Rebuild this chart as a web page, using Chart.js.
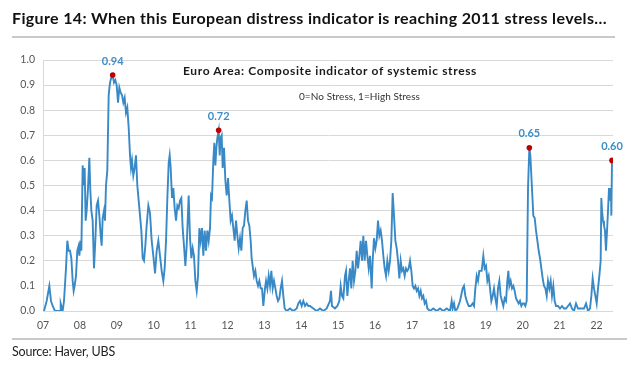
<!DOCTYPE html>
<html>
<head>
<meta charset="utf-8">
<script src="https://cdn.jsdelivr.net/npm/chart.js@4.4.0/dist/chart.umd.min.js"></script>
<style>
  html, body { margin: 0; padding: 0; background: #fff; }
  #wrap { position: relative; width: 640px; height: 371px; overflow: hidden; background: #fff; }
  #c { position: absolute; left: 0; top: 0; }
  .t { position: absolute; white-space: nowrap; display: inline-block; font-family: Lato, "Open Sans", sans-serif; }
  #title { left: 12px; top: 9.5px; font-size: 16px; line-height: 16px; font-weight: 700; color: #111; }
  #rule1 { position: absolute; left: 12px; top: 36px; width: 603px; height: 2px; background: #c9c9c9; }
  #inner { left: 183px; top: 65.2px; font-size: 12px; line-height: 12px; font-weight: 700; color: #1a1a1a; }
  #sub { left: 299px; top: 90.5px; font-size: 10px; line-height: 10px; color: #333; }
  #rule2 { position: absolute; left: 12px; top: 338px; width: 615px; height: 2px; background: #c9c9c9; }
  #source { left: 12px; top: 346.2px; font-size: 12.5px; line-height: 12.5px; color: #222; }
</style>
</head>
<body>
<div id="wrap">
  <canvas id="c" width="640" height="371"></canvas>
  <div class="t" id="title">Figure 14: When this European distress indicator is reaching 2011 stress levels…</div>
  <div id="rule1"></div>
  <div class="t" id="inner">Euro Area: Composite indicator of systemic stress</div>
  <div class="t" id="sub">0=No Stress, 1=High Stress</div>
  <div id="rule2"></div>
  <div class="t" id="source">Source: Haver, UBS</div>
</div>
<script>
// ---- DATA ----
const dates = [
  2007.027,2007.099,2007.172,2007.217,2007.262,2007.325,2007.461,2007.479,2007.533,2007.569,2007.623,2007.659,2007.696,2007.732,2007.768,2007.804,2007.831,2007.858,2007.894,2007.930,2007.967,2007.985,
  2008.021,2008.039,2008.075,2008.102,2008.129,2008.156,2008.183,2008.220,2008.256,2008.283,2008.310,2008.346,2008.382,2008.418,2008.454,2008.491,2008.527,2008.563,2008.590,2008.617,2008.653,2008.680,2008.707,2008.743,2008.780,2008.816,2008.852,2008.888,2008.924,2008.960,2008.996,
  2009.033,2009.069,2009.105,2009.141,2009.177,2009.213,2009.249,2009.285,2009.322,2009.358,2009.385,2009.412,2009.448,2009.484,2009.520,2009.556,2009.593,2009.629,2009.665,2009.701,2009.737,2009.773,2009.809,2009.855,2009.900,2009.945,2009.990,
  2010.036,2010.081,2010.126,2010.171,2010.216,2010.261,2010.297,2010.334,2010.370,2010.406,2010.433,2010.460,2010.496,2010.532,2010.568,2010.605,2010.641,2010.677,2010.713,2010.749,2010.785,2010.821,2010.858,2010.894,2010.921,2010.948,2010.984,
  2011.020,2011.056,2011.092,2011.129,2011.165,2011.201,2011.237,2011.273,2011.309,2011.345,2011.381,2011.418,2011.454,2011.490,2011.526,2011.553,2011.580,2011.616,2011.643,2011.671,2011.698,2011.725,2011.761,2011.788,2011.815,2011.842,2011.869,2011.905,2011.942,2011.978,
  2012.014,2012.050,2012.086,2012.122,2012.158,2012.194,2012.231,2012.267,2012.303,2012.339,2012.375,2012.411,2012.447,2012.484,2012.520,2012.556,2012.592,2012.628,2012.655,2012.682,2012.718,2012.755,2012.791,2012.827,2012.863,2012.899,2012.935,2012.971,
  2013.016,2013.044,2013.080,2013.116,2013.152,2013.188,2013.224,2013.260,2013.297,2013.333,2013.369,2013.405,2013.441,2013.477,2013.513,2013.549,2013.604,2013.694,2013.784,2013.875,2013.920,2013.965,
  2014.010,2014.055,2014.101,2014.146,2014.191,2014.236,2014.326,2014.417,2014.507,2014.597,2014.688,2014.778,2014.805,2014.832,2014.913,2014.977,
  2015.031,2015.067,2015.103,2015.139,2015.184,2015.212,2015.248,2015.284,2015.320,2015.356,2015.392,2015.428,2015.465,2015.501,2015.537,2015.573,2015.609,2015.645,2015.681,2015.717,2015.754,2015.790,2015.826,2015.862,2015.907,2015.934,2015.970,
  2016.007,2016.043,2016.079,2016.115,2016.151,2016.187,2016.223,2016.259,2016.296,2016.332,2016.368,2016.404,2016.440,2016.476,2016.512,2016.549,2016.585,2016.621,2016.657,2016.693,2016.729,2016.765,2016.801,2016.838,2016.874,2016.910,2016.946,2016.982,
  2017.018,2017.054,2017.091,2017.127,2017.163,2017.199,2017.235,2017.271,2017.307,2017.343,2017.380,2017.416,2017.488,2017.578,2017.669,2017.759,2017.849,2017.940,
  2018.030,2018.075,2018.102,2018.138,2018.175,2018.229,2018.301,2018.373,2018.409,2018.446,2018.482,2018.536,2018.590,2018.644,2018.680,2018.717,2018.753,2018.789,2018.825,2018.888,2018.933,2018.969,
  2019.006,2019.042,2019.078,2019.114,2019.150,2019.186,2019.222,2019.258,2019.295,2019.331,2019.367,2019.403,2019.439,2019.475,2019.511,2019.548,2019.584,2019.611,2019.638,2019.674,2019.710,2019.746,2019.782,2019.819,2019.855,2019.891,2019.927,2019.963,2019.999,
  2020.035,2020.072,2020.108,2020.144,2020.180,2020.207,2020.234,2020.261,2020.288,2020.325,2020.361,2020.397,2020.433,2020.469,2020.505,2020.541,2020.577,2020.614,2020.650,2020.686,2020.722,2020.758,2020.794,2020.830,2020.866,2020.903,2020.957,
  2021.011,2021.065,2021.119,2021.174,2021.228,2021.282,2021.336,2021.390,2021.445,2021.499,2021.553,2021.607,2021.661,2021.716,2021.770,2021.824,2021.860,2021.896,2021.932,2021.969,
  2022.005,2022.041,2022.077,2022.113,2022.131,2022.149,2022.176,2022.203,2022.230,2022.257,2022.285,2022.312,2022.339,2022.366,2022.393,2022.402,2022.420
];
const stress = [
  0.00,0.04,0.10,0.04,0.02,0.00,0.00,0.03,0.00,0.04,0.17,0.28,0.24,0.24,0.21,0.12,0.08,0.10,0.14,0.24,0.26,0.22,
  0.28,0.24,0.58,0.50,0.57,0.36,0.40,0.49,0.61,0.48,0.40,0.36,0.17,0.28,0.42,0.44,0.38,0.30,0.26,0.37,0.40,0.36,0.50,0.56,0.86,0.91,0.93,0.94,0.91,0.92,0.90,
  0.83,0.89,0.87,0.86,0.83,0.85,0.79,0.81,0.73,0.62,0.57,0.60,0.54,0.57,0.62,0.50,0.44,0.38,0.32,0.21,0.20,0.26,0.34,0.42,0.39,0.28,0.22,
  0.15,0.24,0.28,0.22,0.16,0.12,0.17,0.28,0.45,0.59,0.62,0.57,0.45,0.49,0.41,0.36,0.42,0.41,0.44,0.45,0.33,0.26,0.18,0.26,0.36,0.46,0.29,
  0.21,0.25,0.22,0.12,0.08,0.14,0.33,0.28,0.33,0.22,0.32,0.24,0.32,0.28,0.33,0.46,0.45,0.60,0.67,0.58,0.65,0.69,0.72,0.62,0.69,0.70,0.57,0.65,0.52,0.46,
  0.53,0.44,0.36,0.38,0.33,0.28,0.36,0.30,0.25,0.29,0.24,0.33,0.34,0.40,0.44,0.36,0.34,0.28,0.21,0.18,0.14,0.16,0.12,0.10,0.12,0.09,0.09,0.02,
  0.09,0.12,0.09,0.14,0.10,0.16,0.09,0.12,0.09,0.06,0.04,0.05,0.09,0.12,0.06,0.01,0.00,0.01,0.00,0.01,0.03,0.04,
  0.02,0.04,0.02,0.03,0.02,0.02,0.01,0.00,0.01,0.00,0.01,0.04,0.08,0.02,0.01,0.02,
  0.04,0.10,0.06,0.05,0.14,0.16,0.06,0.12,0.17,0.09,0.20,0.12,0.16,0.24,0.17,0.22,0.28,0.20,0.30,0.20,0.28,0.22,0.17,0.22,0.09,0.20,0.29,
  0.25,0.28,0.36,0.30,0.32,0.28,0.22,0.17,0.14,0.20,0.16,0.20,0.28,0.47,0.38,0.28,0.25,0.20,0.13,0.20,0.16,0.17,0.14,0.17,0.16,0.17,0.20,0.16,
  0.10,0.09,0.10,0.08,0.09,0.06,0.08,0.05,0.06,0.03,0.04,0.01,0.00,0.01,0.00,0.01,0.00,0.01,
  0.00,0.04,0.01,0.03,0.00,0.01,0.04,0.09,0.10,0.06,0.04,0.02,0.02,0.03,0.02,0.09,0.14,0.12,0.16,0.16,0.22,0.17,
  0.18,0.12,0.14,0.09,0.04,0.06,0.09,0.05,0.02,0.09,0.12,0.06,0.04,0.02,0.05,0.04,0.12,0.16,0.10,0.12,0.09,0.10,0.08,0.05,0.04,0.03,0.04,0.02,0.03,
  0.03,0.02,0.04,0.49,0.65,0.62,0.54,0.46,0.38,0.37,0.32,0.28,0.24,0.21,0.17,0.13,0.10,0.09,0.06,0.12,0.09,0.12,0.06,0.10,0.04,0.02,0.02,
  0.01,0.02,0.01,0.01,0.02,0.03,0.01,0.00,0.03,0.01,0.01,0.01,0.01,0.03,0.00,0.01,0.06,0.13,0.09,0.06,
  0.03,0.09,0.14,0.20,0.45,0.40,0.36,0.34,0.32,0.24,0.32,0.40,0.49,0.44,0.49,0.38,0.60
];
const peakDates  = [2008.888, 2011.761, 2020.180, 2022.420];
const peakValues = [0.94, 0.72, 0.65, 0.60];
const yearTicks  = [2007,2008,2009,2010,2011,2012,2013,2014,2015,2016,2017,2018,2019,2020,2021,2022];
const tickLabels = ['07','08','09','10','11','12','13','14','15','16','17','18','19','20','21','22'];
const xMin = 2007.0, xMax = 2022.447;

// ---- text fitting (letter-spacing) ----
function fit(id, target) {
  const el = document.getElementById(id);
  el.style.letterSpacing = '0px';
  const w = el.getBoundingClientRect().width;
  const n = el.textContent.length;
  el.style.letterSpacing = ((target - w) / n).toFixed(3) + 'px';
}
fit('title', 595);
fit('inner', 294);
fit('sub', 121);
fit('source', 103);

const FONT = 'Lato, "Open Sans", sans-serif';
const lineColor = '#3889c6';
const gridColor = '#d8d8d8';

const peakLabels = {
  id: 'peakLabels',
  afterDatasetsDraw(chart) {
    const {ctx, scales} = chart;
    ctx.save();
    ctx.font = 'bold 11px ' + FONT;
    ctx.fillStyle = '#3d8ec9';
    ctx.textAlign = 'center';
    ctx.textBaseline = 'middle';
    peakDates.forEach((d, i) => {
      const x = scales.x.getPixelForValue(d);
      const y = scales.y.getPixelForValue(peakValues[i]);
      ctx.fillText(peakValues[i].toFixed(2), x, y - 14);
    });
    ctx.restore();
  }
};

new Chart(document.getElementById('c'), {
  type: 'scatter',
  data: {
    datasets: [
      {
        data: peakDates.map((d, i) => ({x: d, y: peakValues[i]})),
        pointRadius: 2.8,
        pointBackgroundColor: '#c00000',
        pointBorderWidth: 0,
        showLine: false,
        order: 0
      },
      {
        data: dates.map((d, i) => ({x: d, y: stress[i]})),
        showLine: true,
        borderColor: lineColor,
        borderWidth: 1.9,
        pointRadius: 0,
        tension: 0,
        order: 1
      }
    ]
  },
  options: {
    responsive: false,
    animation: false,
    devicePixelRatio: 1,
    layout: { padding: { left: 0, right: 27, top: 60, bottom: 35 } },
    plugins: { legend: { display: false }, tooltip: { enabled: false } },
    scales: {
      x: {
        type: 'linear',
        min: xMin,
        max: xMax,
        afterBuildTicks(s) { s.ticks = yearTicks.map(v => ({value: v})); },
        afterFit(s) { s.height = 25; },
        grid: { display: false, drawTicks: false },
        border: { display: false },
        ticks: {
          autoSkip: false,
          maxRotation: 0,
          padding: 8,
          color: '#555',
          font: { family: FONT, size: 10.5 },
          callback: (v) => { const i = yearTicks.indexOf(v); return i >= 0 ? tickLabels[i] : ''; }
        }
      },
      y: {
        min: 0,
        max: 1,
        afterFit(s) { s.width = 43; },
        grid: { color: gridColor, lineWidth: 1, drawTicks: false },
        border: { display: true, color: gridColor, width: 1 },
        ticks: {
          stepSize: 0.1,
          padding: 8,
          color: '#555',
          font: { family: FONT, size: 10.5 },
          callback: (v) => Number(v).toFixed(1)
        }
      }
    }
  },
  plugins: [peakLabels]
});
</script>
</body>
</html>
